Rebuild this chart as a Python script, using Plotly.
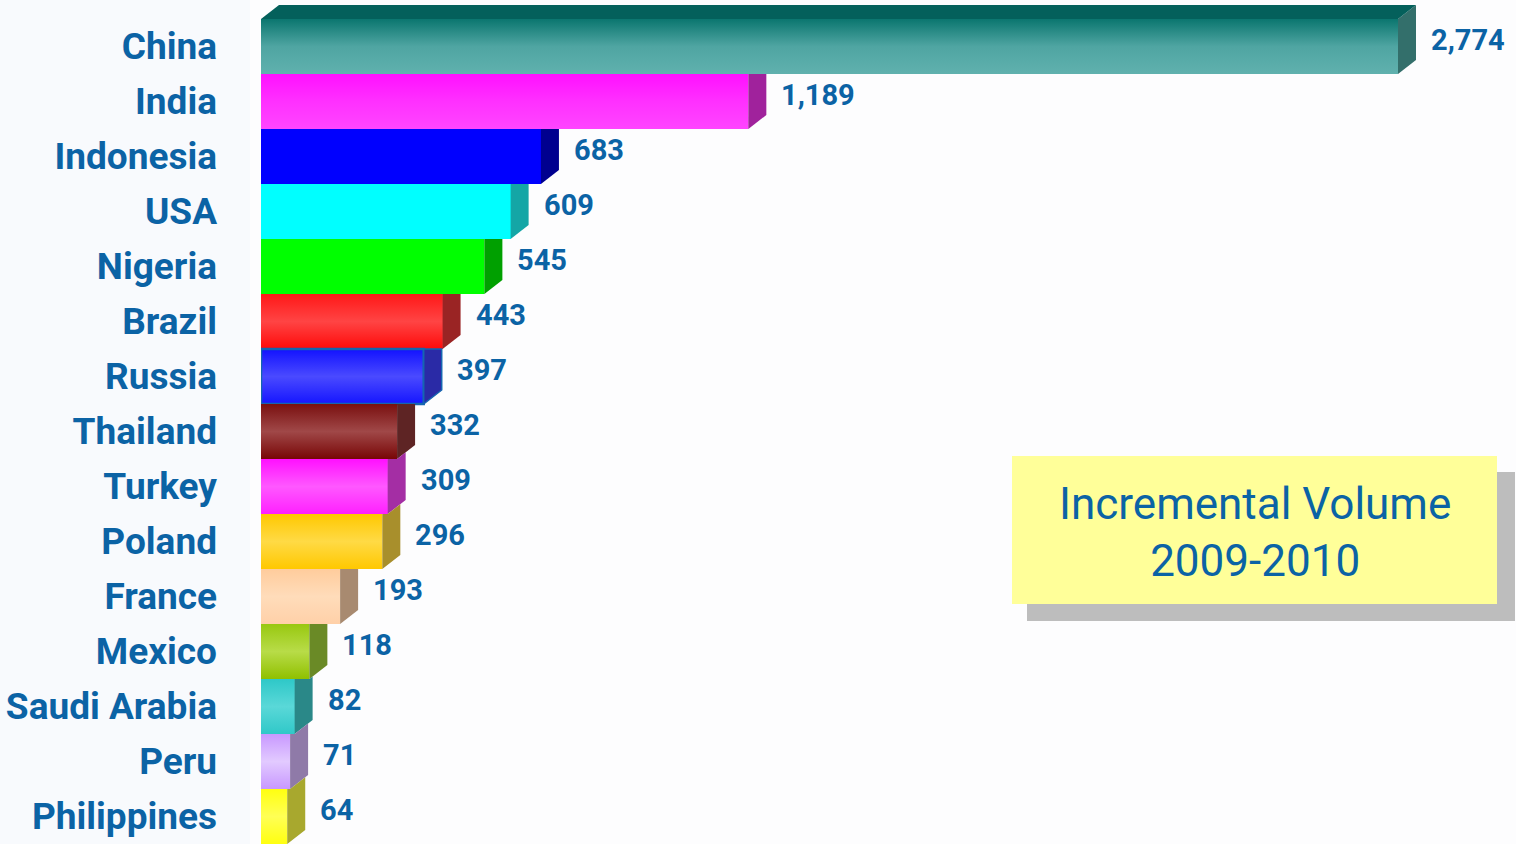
import plotly.graph_objects as go

# ---------------- data ----------------
countries = ["China", "India", "Indonesia", "USA", "Nigeria", "Brazil", "Russia",
             "Thailand", "Turkey", "Poland", "France", "Mexico", "Saudi Arabia",
             "Peru", "Philippines"]
volumes = [2774, 1189, 683, 609, 545, 443, 397, 332, 309, 296, 193, 118, 82, 71, 64]
value_labels = ["2,774", "1,189", "683", "609", "545", "443", "397", "332", "309",
                "296", "193", "118", "82", "71", "64"]
box_title = "Incremental Volume<br>2009-2010"

# ---------------- styles ----------------
face_top = ["#0b766f", "#ff10ff", "#0000ff", "#00ffff", "#00ff00", "#ff1818", "#1212ff",
            "#7a1010", "#ff10ff", "#ffc800", "#ffcc9c", "#98c810", "#2ec8c8", "#c898ff", "#ffff10"]
face_mid = ["#4fa5a2", "#ff30ff", "#0000ff", "#00ffff", "#00ff00", "#ff4444", "#4a4aff",
            "#a04848", "#ff58ff", "#ffda45", "#ffdcba", "#b8dc48", "#5ad8d8", "#e2caff", "#ffff55"]
face_bot = ["#60b1ae", "#ff45ff", "#0000ff", "#00ffff", "#00ff00", "#ff0a0a", "#1515ff",
            "#780606", "#ff20ff", "#ffc800", "#ffd0a8", "#90c000", "#30c8c8", "#c898ff", "#ffff10"]
side_col = ["#336f6b", "#a0229c", "#00008f", "#14a6a6", "#00a000", "#9a2424", "#2a2aa6",
            "#5e2424", "#a42ea4", "#a88f2c", "#a88a70", "#6a8a26", "#2a8888", "#8f7aa8", "#a8a82e"]
top_col = "#04605b"
outline = [None] * len(countries)
outline[6] = "#1565b0"

TEXT = "#0b63a5"
FONT = "Roboto, Liberation Sans, Arial, sans-serif"

W, H = 1516, 844
ML = 261
PLOT_W = W - ML
SLOT_PX = 55.0
XMAX = PLOT_W * volumes[0] / 1137.0
DX_PX, DY_PX = 18, 14
dx = DX_PX * XMAX / PLOT_W
dy = DY_PX / SLOT_PX
y_top = -0.5 - 19 / SLOT_PX
y_bot = y_top + H / SLOT_PX

n = len(countries)
ys = list(range(n))

fig = go.Figure()

# base bars (front faces)
fig.add_trace(go.Bar(
    x=volumes, y=ys, orientation="h", width=1.0,
    marker=dict(color=face_mid, line=dict(width=0)),
    hoverinfo="skip", showlegend=False))

# gradient overlays of front faces
for i, v in enumerate(volumes):
    t, b = i - 0.5, i + 0.5
    fig.add_trace(go.Scatter(
        x=[0, v, v, 0, 0], y=[t, t, b, b, t], mode="lines", fill="toself",
        fillcolor=face_mid[i],
        fillgradient=dict(type="vertical",
                          colorscale=[[0, face_top[i]], [0.5, face_mid[i]], [1, face_bot[i]]],
                          start=t, stop=b),
        line=dict(width=2.5 if outline[i] else 0, color=outline[i] or face_mid[i]),
        hoverinfo="skip", showlegend=False))

# side faces (visible part) and top face of the first bar
for i, v in enumerate(volumes):
    t, b = i - 0.5, i + 0.5
    if i == 0:
        px = [v, v + dx, v + dx, v, v]
        py = [t, t - dy, b - dy, b, t]
    else:
        u = volumes[i - 1]
        if u >= v + dx:
            px = [v, v + dx, v + dx, v, v]
            py = [t, t, b - dy, b, t]
        else:
            px = [v, u, v + dx, v + dx, v, v]
            py = [t, t, t - dy * (v + dx - u) / dx, b - dy, b, t]
    fig.add_trace(go.Scatter(
        x=px, y=py, mode="lines", fill="toself", fillcolor=side_col[i],
        line=dict(width=1.5 if outline[i] else 0, color=outline[i] or side_col[i]),
        hoverinfo="skip", showlegend=False))

t0 = -0.5
fig.add_trace(go.Scatter(
    x=[0, dx, volumes[0] + dx, volumes[0], 0], y=[t0, t0 - dy, t0 - dy, t0, t0],
    mode="lines", fill="toself", fillcolor=top_col, line=dict(width=0),
    hoverinfo="skip", showlegend=False))

# value labels
for i, v in enumerate(volumes):
    fig.add_annotation(x=v, y=i, xref="x", yref="y", text=value_labels[i],
                       showarrow=False, xanchor="left", yanchor="middle",
                       xshift=DX_PX + 13, yshift=7,
                       font=dict(family=FONT, size=29, color=TEXT, weight="bold"))


def px2paper_x(p):
    return (p - ML) / PLOT_W


def px2paper_y(p):
    return 1 - p / H


# caption box with shadow
fig.add_shape(type="rect", xref="paper", yref="paper", layer="above",
              x0=px2paper_x(1027), x1=px2paper_x(1515), y0=px2paper_y(621), y1=px2paper_y(472),
              fillcolor="#bdbdbd", line=dict(width=0))
fig.add_shape(type="rect", xref="paper", yref="paper", layer="above",
              x0=px2paper_x(1012), x1=px2paper_x(1497), y0=px2paper_y(604), y1=px2paper_y(456),
              fillcolor="#ffff99", line=dict(width=0))
fig.add_annotation(xref="paper", yref="paper", x=px2paper_x(1254.5), y=px2paper_y(532),
                   text=box_title, showarrow=False, xanchor="center", yanchor="middle",
                   align="center", font=dict(family=FONT, size=44, color=TEXT))

# faint background tint on the left
fig.add_shape(type="rect", xref="paper", yref="paper", layer="below",
              x0=px2paper_x(0), x1=px2paper_x(250), y0=0, y1=1,
              fillcolor="#f8fafd", line=dict(width=0))

fig.update_layout(
    width=W, height=H,
    margin=dict(l=ML, r=0, t=0, b=0, pad=0),
    paper_bgcolor="#fdfdfe", plot_bgcolor="rgba(0,0,0,0)",
    bargap=0, showlegend=False,
    xaxis=dict(range=[0, XMAX], visible=False, fixedrange=True),
    yaxis=dict(range=[y_bot, y_top], tickmode="array", tickvals=ys, ticktext=countries,
               showgrid=False, zeroline=False, showline=False, ticks="",
               automargin=False, ticklabelstandoff=43, fixedrange=True,
               tickfont=dict(family=FONT, size=37, color=TEXT, weight="bold")),
)

fig.write_html("out.html", config={"displayModeBar": False},
               post_script="document.body.style.margin='0px';document.body.style.overflow='hidden';")
